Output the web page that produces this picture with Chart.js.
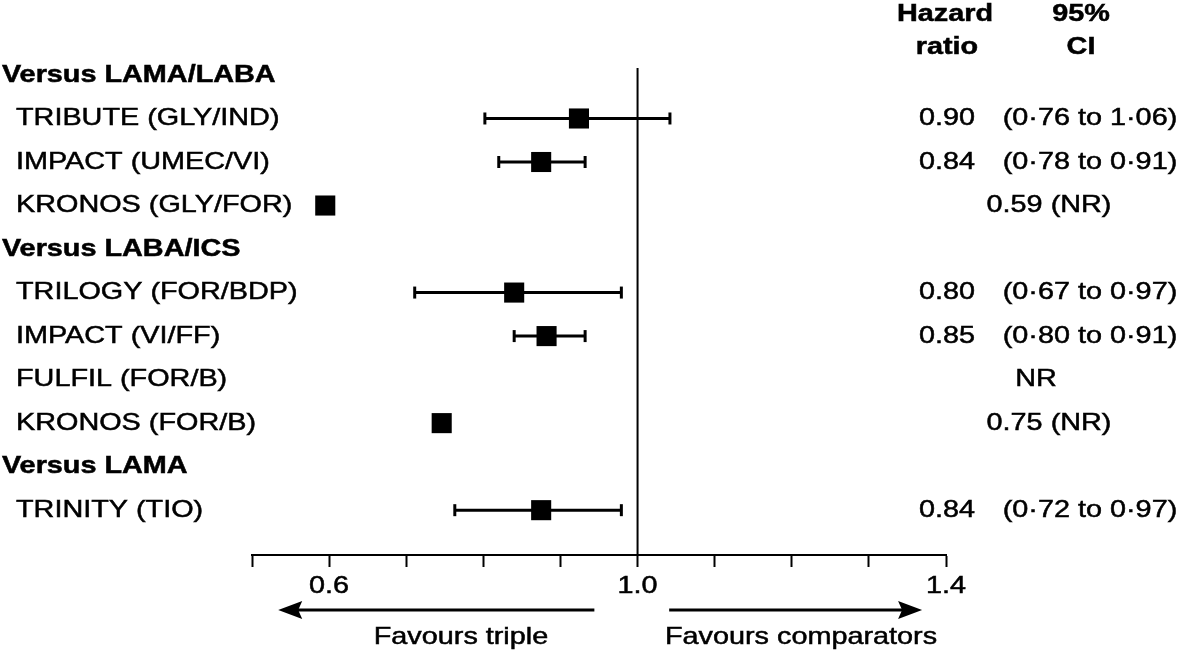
<!DOCTYPE html>
<html>
<head>
<meta charset="utf-8">
<script src="https://cdn.jsdelivr.net/npm/chart.js@4.4.1/dist/chart.umd.min.js"></script>
<style>
    html, body { margin: 0; padding: 0; background: #fff; }
    #wrap { width: 1181px; height: 655px; position: relative; }
</style>
</head>
<body>
<div id="wrap"><canvas id="forest"></canvas></div>
<script>
// Forest plot: triple therapy vs comparators (hazard ratio)
const groupHeads = ['Versus LAMA/LABA', 'Versus LABA/ICS', 'Versus LAMA'];
const groupRows = [0, 4, 9];

const studies = ['TRIBUTE (GLY/IND)', 'IMPACT (UMEC/VI)', 'KRONOS (GLY/FOR)',
    'TRILOGY (FOR/BDP)', 'IMPACT (VI/FF)', 'FULFIL (FOR/B)', 'KRONOS (FOR/B)',
    'TRINITY (TIO)'];
const studyRows = [1, 2, 3, 5, 6, 7, 8, 10];

// marker and whisker positions
const estimates = [0.924, 0.875, 0.595, 0.840, 0.882, null, 0.746, 0.875];
const lowerCI = [0.802, 0.820, null, 0.711, 0.840, null, null, 0.763];
const upperCI = [1.042, 0.932, null, 0.979, 0.932, null, null, 0.979];

// printed columns
const hrText = ['0.90', '0.84', '', '0.80', '0.85', '', '', '0.84'];
const ciText = ['(0·76 to 1·06)', '(0·78 to 0·91)', '', '(0·67 to 0·97)',
    '(0·80 to 0·91)', '', '', '(0·72 to 0·97)'];
const nrText = ['', '', '0.59 (NR)', '', '', 'NR', '0.75 (NR)', ''];

const xTickLabels = [0.6, 1.0, 1.4];
const xMin = 0.5, xMax = 1.4, xStep = 0.1;
const favours = ['Favours triple', 'Favours comparators'];

const FONT = '"Liberation Sans", Arial, sans-serif';
const SX = 1.2; // the source text is stretched horizontally

function drawText(ctx, text, x, y, align, bold) {
    ctx.font = (bold ? 'bold ' : '') + '24px ' + FONT;
    const w = ctx.measureText(text).width * SX;
    let left = x;
    if (align === 'center') left = x - w / 2;
    if (align === 'right') left = x - w;
    ctx.save();
    ctx.translate(left, y);
    ctx.scale(SX, 1);
    ctx.textAlign = 'left';
    ctx.textBaseline = 'middle';
    ctx.fillStyle = '#000';
    ctx.strokeStyle = '#000';
    ctx.lineWidth = 0.5;
    ctx.fillText(text, 0, 0);
    ctx.strokeText(text, 0, 0);
    ctx.restore();
}

const datasets = [];

// confidence intervals, one short line each
studies.forEach((s, i) => {
    if (lowerCI[i] == null) return;
    datasets.push({
        type: 'line',
        data: [{ x: lowerCI[i], y: studyRows[i] }, { x: upperCI[i], y: studyRows[i] }],
        borderColor: '#000',
        borderWidth: 3,
        pointStyle: 'line',
        pointRotation: 90,
        pointRadius: 6,
        pointBorderWidth: 3,
        pointBorderColor: '#000',
        pointHoverRadius: 6,
    });
});

// point estimates
datasets.push({
    type: 'scatter',
    data: studies.map((s, i) => ({ x: estimates[i], y: studyRows[i] }))
        .filter(p => p.x != null),
    pointStyle: 'rect',
    pointRadius: 14.2,
    pointHoverRadius: 14.2,
    backgroundColor: '#000',
    borderColor: '#000',
    borderWidth: 0,
});

const textPlugin = {
    id: 'forestText',
    afterDraw(chart) {
        const ctx = chart.ctx;
        const xs = chart.scales.x;
        const ys = chart.scales.y;
        const area = chart.chartArea;

        // line of no effect
        const x1 = xs.getPixelForValue(1.0);
        ctx.save();
        ctx.strokeStyle = '#000';
        ctx.lineWidth = 2;
        ctx.beginPath();
        ctx.moveTo(x1, area.top);
        ctx.lineTo(x1, area.bottom);
        ctx.stroke();
        ctx.restore();

        // left labels
        groupHeads.forEach((g, i) => drawText(ctx, g, 2, ys.getPixelForValue(groupRows[i]), 'left', true));
        studies.forEach((s, i) => drawText(ctx, s, 16, ys.getPixelForValue(studyRows[i]), 'left', false));

        // column headers
        drawText(ctx, 'Hazard', 945, 14, 'center', true);
        drawText(ctx, 'ratio', 947, 47, 'center', true);
        drawText(ctx, '95%', 1081, 14, 'center', true);
        drawText(ctx, 'CI', 1081, 47, 'center', true);

        // right columns
        studies.forEach((s, i) => {
            const y = ys.getPixelForValue(studyRows[i]);
            if (hrText[i]) drawText(ctx, hrText[i], 947, y, 'center', false);
            if (ciText[i]) drawText(ctx, ciText[i], 1090, y, 'center', false);
            if (nrText[i]) drawText(ctx, nrText[i], nrText[i] === 'NR' ? 1036 : 1049, y, 'center', false);
        });

        // favours arrows
        const ay = area.bottom + 55;
        const arrows = [[0.944, 0.534], [1.041, 1.369]];
        ctx.save();
        ctx.strokeStyle = '#000';
        ctx.fillStyle = '#000';
        ctx.lineWidth = 3;
        arrows.forEach(([from, to]) => {
            const a = xs.getPixelForValue(from);
            const b = xs.getPixelForValue(to);
            const dir = b > a ? 1 : -1;
            ctx.beginPath();
            ctx.moveTo(a, ay);
            ctx.lineTo(b - dir * 18, ay);
            ctx.stroke();
            ctx.beginPath();
            ctx.moveTo(b, ay);
            ctx.lineTo(b - dir * 24, ay - 9);
            ctx.lineTo(b - dir * 20, ay);
            ctx.lineTo(b - dir * 24, ay + 9);
            ctx.closePath();
            ctx.fill();
        });
        ctx.restore();
        drawText(ctx, favours[0], xs.getPixelForValue(0.771), area.bottom + 82, 'center', false);
        drawText(ctx, favours[1], xs.getPixelForValue(1.212), area.bottom + 82, 'center', false);

        // tick labels
        xTickLabels.forEach(v => drawText(ctx, v.toFixed(1), xs.getPixelForValue(v), area.bottom + 31, 'center', false));
    }
};

new Chart(document.getElementById('forest'), {
    type: 'scatter',
    data: { datasets },
    options: {
        responsive: true,
        maintainAspectRatio: false,
        animation: false,
        events: [],
        layout: { padding: { left: 252, right: 235, top: 68, bottom: 0 } },
        plugins: {
            legend: { display: false },
            tooltip: { enabled: false },
        },
        scales: {
            x: {
                type: 'linear',
                min: xMin,
                max: xMax,
                afterFit(scale) { scale.height = 100; },
                afterBuildTicks(scale) {
                    const t = [];
                    for (let k = 0; xMin + k * xStep <= xMax + 1e-9; k++) t.push({ value: +(xMin + k * xStep).toFixed(2) });
                    scale.ticks = t;
                },
                ticks: { callback: () => '', padding: 0 },
                grid: {
                    drawOnChartArea: false,
                    drawTicks: true,
                    tickLength: 12,
                    tickWidth: 2,
                    tickColor: '#000',
                    color: '#000',
                },
                border: { display: true, color: '#000', width: 2 },
            },
            y: {
                type: 'linear',
                reverse: true,
                min: -0.16,
                max: 11.03,
                display: false,
            }
        }
    },
    plugins: [textPlugin]
});
</script>
</body>
</html>
